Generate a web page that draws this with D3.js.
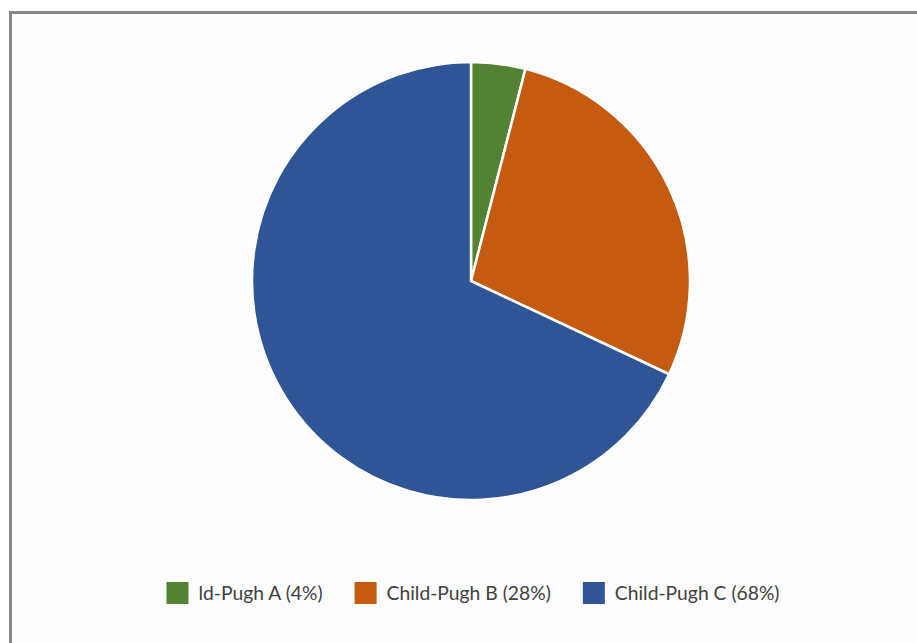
<!DOCTYPE html>
<html>
<head>
<meta charset="utf-8">
<script src="https://cdn.jsdelivr.net/npm/d3@7"></script>
<style>
	html, body { margin: 0; padding: 0; background: #fff; }
	svg { display: block; }
</style>
</head>
<body>
<div id="chart"></div>
<script>
	// Data
	const labels = ["ld-Pugh A (4%)", "Child-Pugh B (28%)", "Child-Pugh C (68%)"];
	const values = [4, 28, 68];
	const colors = ["#548235", "#C55A11", "#2F5597"];

	const WIDTH = 917;
	const HEIGHT = 643;

	const svg = d3.select("#chart")
		.append("svg")
		.attr("width", WIDTH)
		.attr("height", HEIGHT);

	// Frame: panel background plus the grey top / left edges
	svg.append("rect")
		.attr("x", 10)
		.attr("y", 12)
		.attr("width", WIDTH - 10)
		.attr("height", HEIGHT - 12)
		.attr("fill", "#fdfdfd");

	svg.append("path")
		.attr("d", `M 10.5 ${HEIGHT} L 10.5 12.5 L ${WIDTH} 12.5`)
		.attr("fill", "none")
		.attr("stroke", "#888")
		.attr("stroke-width", 3);

	// Pie
	const CENTER = { x: 471, y: 281 };
	const RADIUS = 219;

	const pie = d3.pie().sort(null).value((d) => d.v);
	const arc = d3.arc().innerRadius(0).outerRadius(RADIUS);

	const data = labels.map((l, i) => ({ l: l, v: values[i], c: colors[i] }));

	svg.append("g")
		.attr("transform", `translate(${CENTER.x}, ${CENTER.y})`)
		.selectAll("path")
		.data(pie(data))
		.enter()
		.append("path")
		.attr("d", arc)
		.attr("fill", (d) => d.data.c)
		.attr("stroke", "#fff")
		.attr("stroke-width", 2.5)
		.attr("stroke-linejoin", "round");

	// Legend (measured, then centered)
	const SWATCH = 22;
	const TEXT_GAP = 10;
	const ITEM_GAP = 32;
	const LEGEND_Y = 593;

	const legend = svg.append("g");

	const items = legend.selectAll("g")
		.data(data)
		.enter()
		.append("g");

	items.append("rect")
		.attr("y", LEGEND_Y - SWATCH / 2)
		.attr("width", SWATCH)
		.attr("height", SWATCH)
		.attr("fill", (d) => d.c);

	items.append("text")
		.attr("x", SWATCH + TEXT_GAP)
		.attr("y", LEGEND_Y)
		.attr("dy", "0.35em")
		.style("font-family", "Lato, 'Open Sans', sans-serif")
		.style("font-size", "19.3px")
		.attr("fill", "#404040")
		.text((d) => d.l);

	let x = 0;
	items.each(function () {
		const w = SWATCH + TEXT_GAP + d3.select(this).select("text").node().getComputedTextLength();
		d3.select(this).attr("transform", `translate(${x}, 0)`);
		x += w + ITEM_GAP;
	});
	const total = x - ITEM_GAP;
	legend.attr("transform", `translate(${473 - total / 2}, 0)`);
</script>
</body>
</html>
